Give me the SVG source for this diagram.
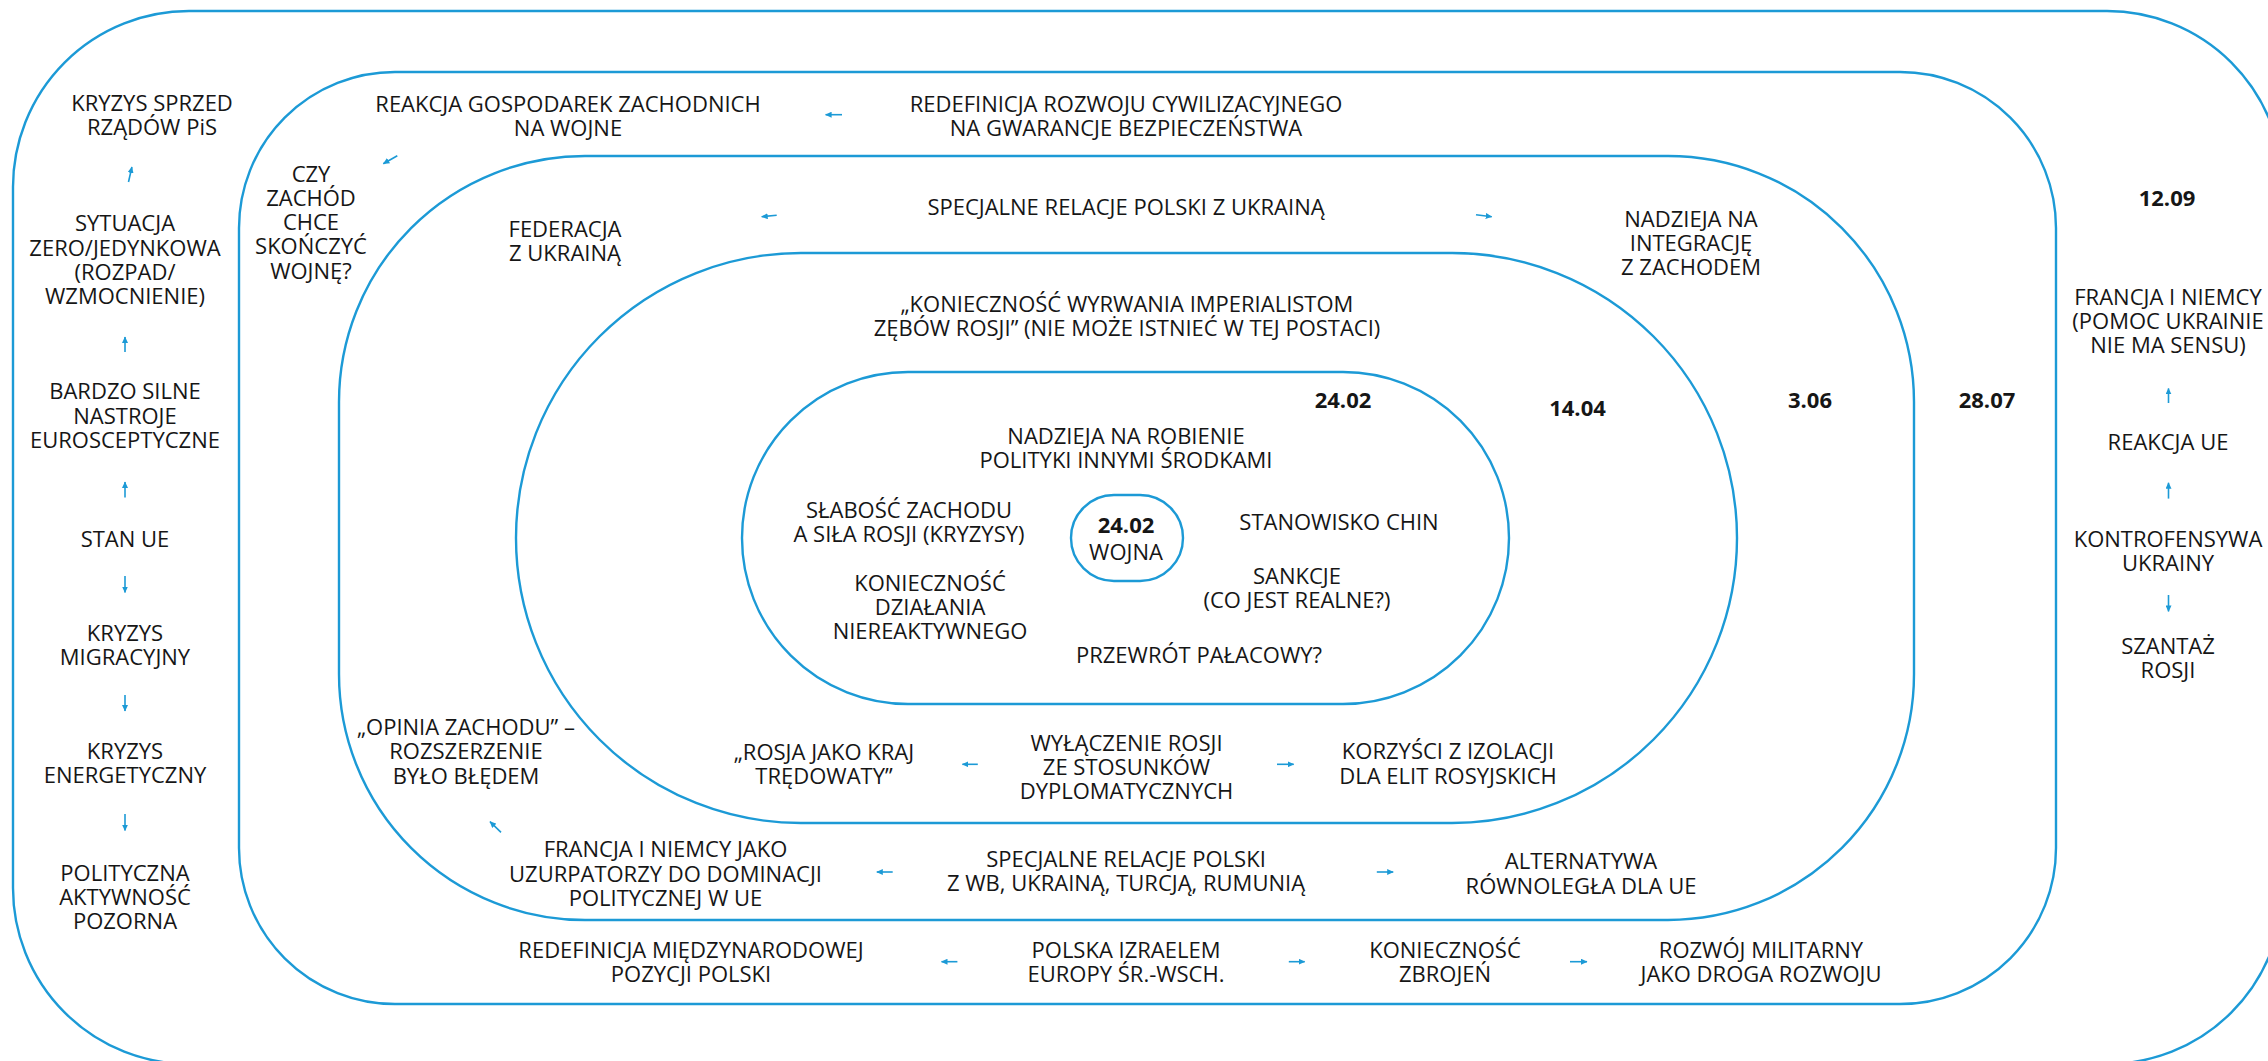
<svg xmlns="http://www.w3.org/2000/svg" width="2268" height="1061" viewBox="0 0 2268 1061">
<style>
.ring{fill:none;stroke:#1C9AD6;stroke-width:2.4}
text{font-family:"Open Sans","Noto Sans","DejaVu Sans",sans-serif;font-size:22px;fill:#161616;text-anchor:middle}
.b{font-weight:700}
.arr{fill:none;stroke:#1C9AD6;stroke-width:1.6;marker-end:url(#ah)}
</style>
<defs>
<marker id="ah" markerUnits="userSpaceOnUse" markerWidth="7" markerHeight="6" refX="6" refY="3" orient="auto"><path d="M0,0 L6.5,3 L0,6 z" fill="#1C9AD6"/></marker>
</defs>
<rect width="2268" height="1061" fill="#fff"/>
<g id="rings">
<rect id="ring1" class="ring" x="13" y="11" width="2270" height="1053" rx="176"/>
<rect id="ring2" class="ring" x="239" y="72" width="1817" height="932" rx="156"/>
<rect id="ring3" class="ring" x="339" y="156" width="1575" height="764" rx="246"/>
<rect id="ring4" class="ring" x="516" y="253" width="1221" height="570" rx="285"/>
<rect id="ring5" class="ring" x="742" y="372" width="767" height="332" rx="166"/>
</g>
<g id="connectors">
<line class="arr" x1="128.5" y1="182" x2="131.9" y2="167"/>
<line class="arr" x1="125" y1="352" x2="125" y2="337"/>
<line class="arr" x1="125" y1="497.6" x2="125" y2="482"/>
<line class="arr" x1="125" y1="576" x2="125" y2="592.5"/>
<line class="arr" x1="125" y1="695" x2="125" y2="711"/>
<line class="arr" x1="125" y1="814" x2="125" y2="830.6"/>
<line class="arr" x1="397.3" y1="155.7" x2="383.3" y2="163.7"/>
<line class="arr" x1="842" y1="114.7" x2="825.6" y2="114.7"/>
<line class="arr" x1="776.7" y1="215.3" x2="761.7" y2="216.7"/>
<line class="arr" x1="1476" y1="214.7" x2="1491.7" y2="216.7"/>
<line class="arr" x1="977.8" y1="764.3" x2="962.4" y2="764.3"/>
<line class="arr" x1="1277" y1="764.3" x2="1293.7" y2="764.3"/>
<line class="arr" x1="501" y1="832.3" x2="490" y2="821.7"/>
<line class="arr" x1="892.7" y1="872" x2="876.8" y2="872"/>
<line class="arr" x1="1376.8" y1="872" x2="1393.2" y2="872"/>
<line class="arr" x1="957.4" y1="961.7" x2="941.5" y2="961.7"/>
<line class="arr" x1="1288.8" y1="961.7" x2="1304.7" y2="961.7"/>
<line class="arr" x1="1570" y1="961.7" x2="1587" y2="961.7"/>
<line class="arr" x1="2168.5" y1="403" x2="2168.5" y2="388.4"/>
<line class="arr" x1="2168.5" y1="498.6" x2="2168.5" y2="482.8"/>
<line class="arr" x1="2168.5" y1="595" x2="2168.5" y2="611.4"/>
</g>
<g id="n_kryzys_sprzed"><text x="152" y="111">KRYZYS SPRZED<tspan x="152" y="135">RZĄDÓW PiS</tspan></text></g>
<g id="n_sytuacja"><text x="125" y="231.2">SYTUACJA<tspan x="125" y="255.6">ZERO/JEDYNKOWA</tspan><tspan x="125" y="280">(ROZPAD/</tspan><tspan x="125" y="304.4">WZMOCNIENIE)</tspan></text></g>
<g id="n_nastroje"><text x="125" y="399.4">BARDZO SILNE<tspan x="125" y="423.8">NASTROJE</tspan><tspan x="125" y="448.2">EUROSCEPTYCZNE</tspan></text></g>
<g id="n_stan_ue"><text x="125" y="547">STAN UE</text></g>
<g id="n_migracyjny"><text x="125" y="641">KRYZYS<tspan x="125" y="665.2">MIGRACYJNY</tspan></text></g>
<g id="n_energetyczny"><text x="125" y="758.5">KRYZYS<tspan x="125" y="782.7">ENERGETYCZNY</tspan></text></g>
<g id="n_polityczna"><text x="125" y="880.6">POLITYCZNA<tspan x="125" y="904.8">AKTYWNOŚĆ</tspan><tspan x="125" y="929">POZORNA</tspan></text></g>
<g id="n_czy_zachod"><text x="311" y="181.8">CZY<tspan x="311" y="206">ZACHÓD</tspan><tspan x="311" y="230.2">CHCE</tspan><tspan x="311" y="254.4">SKOŃCZYĆ</tspan><tspan x="311" y="278.6">WOJNĘ?</tspan></text></g>
<g id="n_reakcja_gosp"><text x="568" y="112">REAKCJA GOSPODAREK ZACHODNICH<tspan x="568" y="136.2">NA WOJNE</tspan></text></g>
<g id="n_redef_rozwoju"><text x="1126" y="112">REDEFINICJA ROZWOJU CYWILIZACYJNEGO<tspan x="1126" y="136.2">NA GWARANCJE BEZPIECZEŃSTWA</tspan></text></g>
<g id="n_federacja"><text x="565" y="236.7">FEDERACJA<tspan x="565" y="260.9">Z UKRAINĄ</tspan></text></g>
<g id="n_spec_ukraina"><text x="1126" y="215">SPECJALNE RELACJE POLSKI Z UKRAINĄ</text></g>
<g id="n_nadzieja_integr"><text x="1691" y="227.3">NADZIEJA NA<tspan x="1691" y="251">INTEGRACJĘ</tspan><tspan x="1691" y="274.5">Z ZACHODEM</tspan></text></g>
<g id="n_koniecznosc_wyrw"><text x="1127" y="311.6">„KONIECZNOŚĆ WYRWANIA IMPERIALISTOM<tspan x="1127" y="335.8">ZĘBÓW ROSJI” (NIE MOŻE ISTNIEĆ W TEJ POSTACI)</tspan></text></g>
<g id="d_2402"><text class="b" x="1343" y="408">24.02</text></g>
<g id="d_1404"><text class="b" x="1577.5" y="416">14.04</text></g>
<g id="d_0306"><text class="b" x="1810" y="408">3.06</text></g>
<g id="d_2807"><text class="b" x="1987" y="408">28.07</text></g>
<g id="d_1209"><text class="b" x="2167" y="206">12.09</text></g>
<g id="n_nadzieja_robienie"><text x="1126" y="443.5">NADZIEJA NA ROBIENIE<tspan x="1126" y="467.7">POLITYKI INNYMI ŚRODKAMI</tspan></text></g>
<g id="n_slabosc"><text x="909" y="518.2">SŁABOŚĆ ZACHODU<tspan x="909" y="542.4">A SIŁA ROSJI (KRYZYSY)</tspan></text></g>
<g id="n_chiny"><text x="1339" y="529.6">STANOWISKO CHIN</text></g>
<g id="n_wojna"><rect class="ring" x="1071" y="495" width="112" height="86" rx="43"/><text class="b" x="1126" y="533.3">24.02</text><text x="1126" y="560">WOJNA</text></g>
<g id="n_koniecznosc_dzial"><text x="930" y="590.7">KONIECZNOŚĆ<tspan x="930" y="615">DZIAŁANIA</tspan><tspan x="930" y="639.3">NIEREAKTYWNEGO</tspan></text></g>
<g id="n_sankcje"><text x="1297" y="583.8">SANKCJE<tspan x="1297" y="608">(CO JEST REALNE?)</tspan></text></g>
<g id="n_przewrot"><text x="1199" y="663.2">PRZEWRÓT PAŁACOWY?</text></g>
<g id="n_rosja_kraj"><text x="824" y="760">„ROSJA JAKO KRAJ<tspan x="824" y="784.2">TRĘDOWATY”</tspan></text></g>
<g id="n_wylaczenie"><text x="1126.5" y="750.5">WYŁĄCZENIE ROSJI<tspan x="1126.5" y="774.7">ZE STOSUNKÓW</tspan><tspan x="1126.5" y="798.9">DYPLOMATYCZNYCH</tspan></text></g>
<g id="n_korzysci"><text x="1448" y="759.3">KORZYŚCI Z IZOLACJI<tspan x="1448" y="783.5">DLA ELIT ROSYJSKICH</tspan></text></g>
<g id="n_opinia"><text x="466" y="735">„OPINIA ZACHODU” –<tspan x="466" y="759.3">ROZSZERZENIE</tspan><tspan x="466" y="783.5">BYŁO BŁĘDEM</tspan></text></g>
<g id="n_francja_uzurp"><text x="665.5" y="857.3">FRANCJA I NIEMCY JAKO<tspan x="665.5" y="881.5">UZURPATORZY DO DOMINACJI</tspan><tspan x="665.5" y="905.7">POLITYCZNEJ W UE</tspan></text></g>
<g id="n_spec_wb"><text x="1126" y="866.8">SPECJALNE RELACJE POLSKI<tspan x="1126" y="891">Z WB, UKRAINĄ, TURCJĄ, RUMUNIĄ</tspan></text></g>
<g id="n_alternatywa"><text x="1581" y="869.3">ALTERNATYWA<tspan x="1581" y="893.5">RÓWNOLEGŁA DLA UE</tspan></text></g>
<g id="n_redef_pozycji"><text x="691" y="957.5">REDEFINICJA MIĘDZYNARODOWEJ<tspan x="691" y="981.7">POZYCJI POLSKI</tspan></text></g>
<g id="n_izrael"><text x="1126" y="957.5">POLSKA IZRAELEM<tspan x="1126" y="981.7">EUROPY ŚR.-WSCH.</tspan></text></g>
<g id="n_zbrojen"><text x="1445" y="957.5">KONIECZNOŚĆ<tspan x="1445" y="981.7">ZBROJEŃ</tspan></text></g>
<g id="n_rozwoj_mil"><text x="1761" y="957.5">ROZWÓJ MILITARNY<tspan x="1761" y="981.7">JAKO DROGA ROZWOJU</tspan></text></g>
<g id="n_francja_pomoc"><text x="2168" y="304.8">FRANCJA I NIEMCY<tspan x="2168" y="329">(POMOC UKRAINIE</tspan><tspan x="2168" y="353.2">NIE MA SENSU)</tspan></text></g>
<g id="n_reakcja_ue"><text x="2168" y="450.4">REAKCJA UE</text></g>
<g id="n_kontrofensywa"><text x="2168" y="547">KONTROFENSYWA<tspan x="2168" y="571.2">UKRAINY</tspan></text></g>
<g id="n_szantaz"><text x="2168" y="654">SZANTAŻ<tspan x="2168" y="678.2">ROSJI</tspan></text></g>
</svg>
